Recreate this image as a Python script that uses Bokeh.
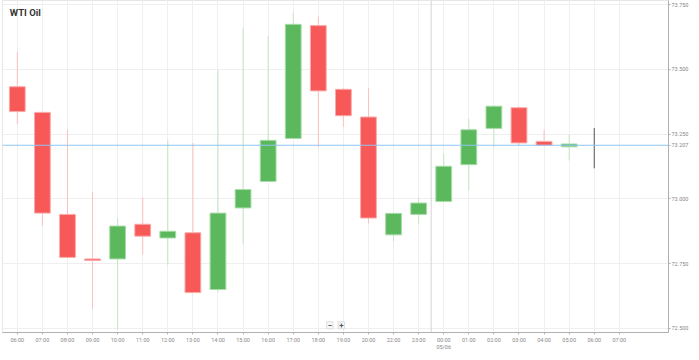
from bokeh.plotting import figure
from bokeh.models import FixedTicker, NumeralTickFormatter, Span, Label, Range1d
from bokeh.embed import file_html
from bokeh.resources import INLINE

# ---- data ----
time_labels = ["06:00", "07:00", "08:00", "09:00", "10:00", "11:00", "12:00", "13:00",
               "14:00", "15:00", "16:00", "17:00", "18:00", "19:00", "20:00", "22:00",
               "23:00", "00:00", "01:00", "02:00", "03:00", "04:00", "05:00", "06:00", "07:00"]
opens  = [73.433, 73.334, 72.940, 72.768, 72.768, 72.902, 72.849, 72.869, 72.650, 72.965,
          73.067, 73.233, 73.669, 73.423, 73.316, 72.861, 72.940, 72.990, 73.132, 73.272,
          73.352, 73.222, 73.201]
highs  = [73.568, 73.337, 73.267, 73.027, 72.926, 73.005, 73.226, 73.216, 73.497, 73.660,
          73.629, 73.719, 73.704, 73.427, 73.427, 72.945, 73.005, 73.175, 73.308, 73.359,
          73.357, 73.267, 73.247]
lows   = [73.289, 72.896, 72.772, 72.574, 72.496, 72.785, 72.745, 72.636, 72.641, 72.826,
          73.065, 73.232, 73.199, 73.278, 72.905, 72.836, 72.905, 72.988, 73.033, 73.198,
          73.208, 73.206, 73.148]
closes = [73.337, 72.945, 72.774, 72.762, 72.895, 72.856, 72.875, 72.638, 72.945, 73.036,
          73.226, 73.674, 73.417, 73.321, 72.926, 72.944, 72.984, 73.126, 73.267, 73.358,
          73.216, 73.207, 73.212]
current_high = 73.274
current_low = 73.118
last_price = 73.207
y_ticks = [72.5, 72.75, 73.0, 73.25, 73.5, 73.75]
day_break = 16.5
date_label = "05/06"
date_tick = 17
title_text = "WTI Oil"

RED = "#f75858"
RED_EDGE = "#fbaaaa"
RED_WICK = "#fbc0c0"
GREEN = "#5cb85c"
GREEN_EDGE = "#a8dca8"
GREEN_WICK = "#c4e6c4"
FONT = "Roboto"

X0, X1 = -0.59, 25.96
Y0, Y1 = 72.484, 73.766

p = figure(width=691, height=352, output_backend="svg", toolbar_location=None,
           y_axis_location="right",
           x_range=Range1d(X0, X1), y_range=Range1d(Y0, Y1),
           min_border_left=2, min_border_top=0, min_border_right=22, min_border_bottom=17)
p.background_fill_color = "white"
p.border_fill_color = "white"
p.outline_line_color = "#e6e6e6"

n = len(opens)
xs = list(range(n))
up = [c >= o for o, c in zip(opens, closes)]
for flag, body, edge, wick in [(True, GREEN, GREEN_EDGE, GREEN_WICK), (False, RED, RED_EDGE, RED_WICK)]:
    idx = [i for i in xs if up[i] == flag]
    p.segment(x0=[xs[i] for i in idx], x1=[xs[i] for i in idx],
              y0=[highs[i] for i in idx], y1=[lows[i] for i in idx],
              line_color=wick, line_width=1)
    p.vbar(x=[xs[i] for i in idx], width=0.63,
           top=[max(opens[i], closes[i]) for i in idx],
           bottom=[min(opens[i], closes[i]) for i in idx],
           fill_color=body, line_color=edge, line_width=1)

# current (forming) candle
p.segment(x0=[n], x1=[n], y0=[current_high], y1=[current_low], line_color="#555555", line_width=1)

# grids
p.xgrid.ticker = FixedTicker(ticks=list(range(len(time_labels))))
p.ygrid.ticker = FixedTicker(ticks=y_ticks)
p.xgrid.grid_line_color = "#efefef"
p.ygrid.grid_line_color = "#efefef"

# day separator
p.add_layout(Span(location=day_break, dimension="height", line_color="#d6d6d6", line_width=1))
# last price line
p.add_layout(Span(location=last_price, dimension="width", line_color="#8ec5f2", line_width=1))

# axes
x_overrides = {i: t for i, t in enumerate(time_labels)}
x_overrides[date_tick] = time_labels[date_tick] + "\n" + date_label
p.xaxis.ticker = FixedTicker(ticks=list(range(len(time_labels))))
p.xaxis.major_label_overrides = x_overrides
p.yaxis.ticker = FixedTicker(ticks=y_ticks + [last_price])
p.yaxis.formatter = NumeralTickFormatter(format="0.000")
for ax in (p.xaxis[0], p.yaxis[0]):
    ax.axis_label = None
    ax.axis_line_color = "#b0b0b0"
    ax.major_tick_line_color = "#b0b0b0"
    ax.major_tick_out = 2
    ax.major_tick_in = 0
    ax.minor_tick_line_color = None
    ax.major_label_text_font = FONT
    ax.major_label_text_font_size = "5.5px"
    ax.major_label_text_color = "#888888"
p.xaxis.major_label_standoff = 2
p.yaxis.major_label_standoff = 1

# title
p.add_layout(Label(x=-0.30, y=73.742, text=title_text, text_font=FONT, text_font_size="9.5px",
                   text_font_style="bold", text_color="#333333", text_baseline="top"))
# zoom buttons
p.add_layout(Label(x=12.46, y=72.512, text="−", text_font=FONT, text_font_size="8px",
                   text_font_style="bold", text_color="#555555", text_align="center",
                   text_baseline="middle", background_fill_color="#f7f7f7",
                   border_line_color="#dddddd", padding=1))
p.add_layout(Label(x=12.92, y=72.512, text="+", text_font=FONT, text_font_size="8px",
                   text_font_style="bold", text_color="#555555", text_align="center",
                   text_baseline="middle", background_fill_color="#f7f7f7",
                   border_line_color="#dddddd", padding=1))

open("out.html", "w").write(file_html(p, INLINE))
